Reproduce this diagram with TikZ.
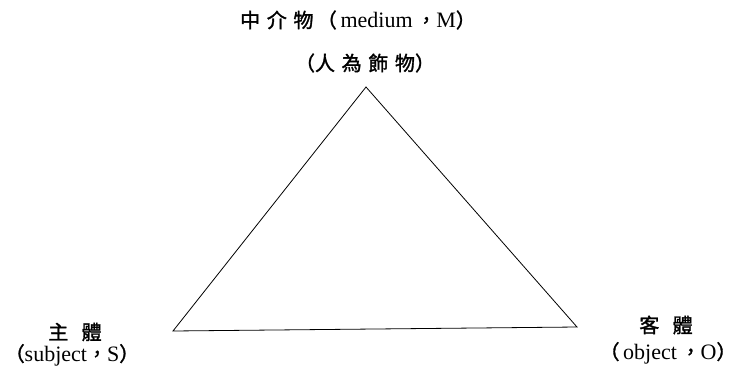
\documentclass[tikz,border=0pt]{standalone}
\usepackage{fontspec}
\setmainfont{Liberation Serif}
\newfontfamily\cjk{Noto Sans CJK TC}[FakeBold=1.5]
\usetikzlibrary{positioning}
\newcommand{\zh}[1]{{\cjk\fontsize{20}{24}\selectfont #1}}

\begin{document}
\begin{tikzpicture}[x=1pt,y=-1pt,
  lbl/.style={font=\fontsize{22}{26}\selectfont,inner sep=0pt,anchor=center},
  edge/.style={draw=black,line width=0.8pt,line join=miter}]
  \useasboundingbox (0,0) rectangle (738,372);
  % corners of the triangle
  \coordinate (M) at (366,87);
  \coordinate (S) at (173,331);
  \coordinate (O) at (577,327);
  \draw[edge] (S) -- (M) -- (O) -- cycle;
  % labels
  \node[lbl] (medium) at (358,20) {\zh{中\,\,介\,\,物\,（}\,medium\,\zh{，}M\zh{）}};
  \node[lbl] (artifact) at (365,63) {\zh{（人\,\,為\,\,飾\,\,物）}};
  \node[lbl] (subject) at (75,332) {\zh{主\,\,\,\,體}};
  \node[lbl] (subjectS) at (72,355) {\zh{（}subject\zh{，}S\zh{）}};
  \node[lbl] (object) at (666,325) {\zh{客\,\,\,\,體}};
  \node[lbl] (objectO) at (668,353) {\zh{（}\,object\,\zh{，}O\zh{）}};
\end{tikzpicture}
\end{document}
